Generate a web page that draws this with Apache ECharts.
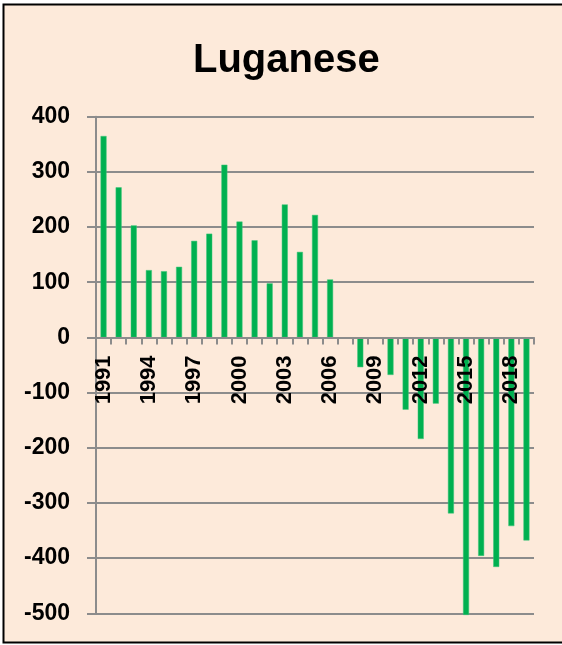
<!DOCTYPE html>
<html>
<head>
<meta charset="utf-8">
<script src="https://cdn.jsdelivr.net/npm/echarts@6/dist/echarts.min.js"></script>
<style>
html,body{margin:0;padding:0;background:#fff;}
#chart{width:562px;height:645px;}
</style>
</head>
<body>
<div id="chart"></div>
<script>
const titleText = "Luganese";
const years = ["1991","1992","1993","1994","1995","1996","1997","1998","1999","2000",
  "2001","2002","2003","2004","2005","2006","2007","2008","2009","2010",
  "2011","2012","2013","2014","2015","2016","2017","2018","2019"];
const values = [365, 272, 203, 122, 120, 128, 175, 188, 313, 210,
  176, 98, 241, 155, 222, 105, null, -54, null, -68,
  -131, -184, -120, -319, -503, -396, -416, -342, -368];
const yMin = -500, yMax = 400, yStep = 100;

const W = 562, H = 645;
const gridTop = 116.7, gridBottom = 31.7;
const gridH = H - gridTop - gridBottom;
// lift the category axis from the grid bottom up to the value 0
const zeroOffset = -gridH * (0 - yMin) / (yMax - yMin);

const chart = echarts.init(document.getElementById('chart'), null, {renderer: 'canvas'});
const gray = '#8c8c8c';
const font = '"Liberation Sans", Arial, sans-serif';
chart.setOption({
  backgroundColor: '#ffffff',
  animation: false,
  graphic: [{
    type: 'rect', z: -100, silent: true,
    shape: {x: 3.5, y: 4.5, width: 620, height: 638},
    style: {fill: '#FDEADA', stroke: '#000', lineWidth: 2}
  }],
  title: {
    text: titleText, left: 188, top: 36, padding: 5,
    textStyle: {fontFamily: font, fontWeight: 'bold', fontSize: 40, color: '#000'}
  },
  grid: {left: 96, right: 28, top: gridTop, bottom: gridBottom, containLabel: false, outerBoundsMode: 'none'},
  xAxis: {
    type: 'category', data: years, z: 10, position: 'bottom', offset: zeroOffset,
    axisLine: {onZero: false, lineStyle: {color: gray, width: 2}},
    axisTick: {show: true, interval: 0, length: 7, lineStyle: {color: gray, width: 2}},
    axisLabel: {interval: 2, rotate: 90, margin: 18, fontFamily: font, fontWeight: 'bold', fontSize: 22, color: '#000'},
    splitLine: {show: false}
  },
  yAxis: {
    type: 'value', min: yMin, max: yMax, interval: yStep,
    axisLine: {show: true, lineStyle: {color: gray, width: 2}},
    axisTick: {show: true, length: 9, lineStyle: {color: gray, width: 2}},
    axisLabel: {margin: 26, fontFamily: font, fontWeight: 'bold', fontSize: 23, color: '#000'},
    splitLine: {show: true, lineStyle: {color: gray, width: 2}}
  },
  series: [{
    type: 'bar', data: values, barWidth: 6, clip: false,
    itemStyle: {color: '#00B050', borderColor: '#3fc67a', borderWidth: 0.5}
  }]
});
</script>
</body>
</html>
